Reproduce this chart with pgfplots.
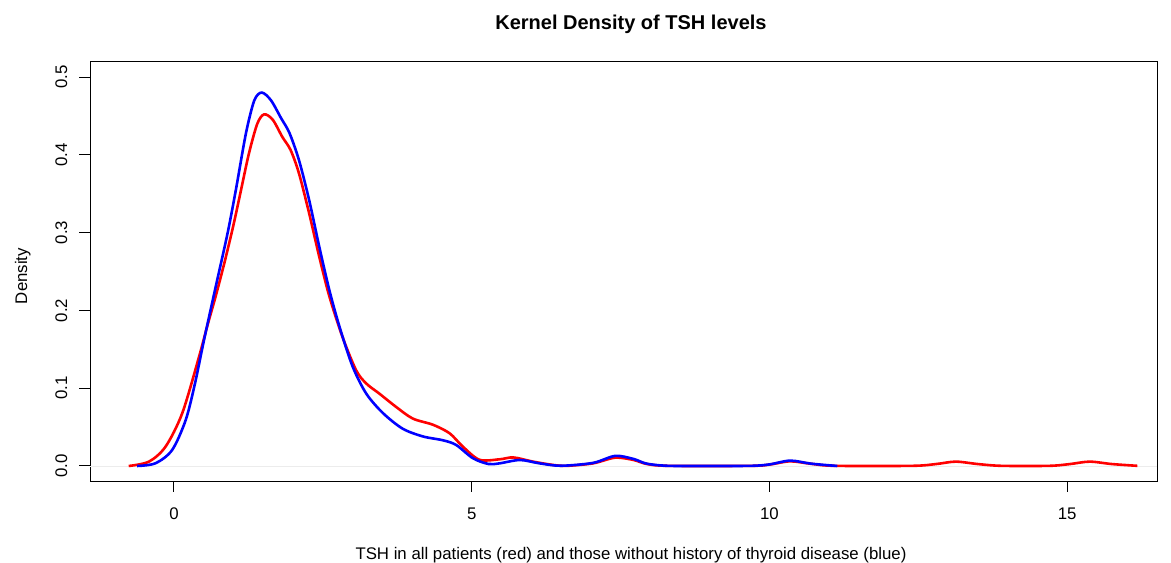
\documentclass[border=0pt]{standalone}
\usepackage{pgfplots}
\pgfplotsset{compat=1.18}
\usepackage{fontspec}
\setmainfont{Liberation Sans}
\pgfplotstableread{
x y
-0.76 0
-0.42 0.0056
-0.14 0.025
0.14 0.068
0.42 0.140
0.56 0.180
0.70 0.218
0.85 0.262
1.00 0.310
1.13 0.356
1.26 0.402
1.40 0.440
1.515 0.452
1.66 0.445
1.82 0.423
1.96 0.406
2.10 0.376
2.27 0.325
2.44 0.269
2.61 0.218
2.83 0.166
3.06 0.123
3.23 0.106
3.45 0.093
3.73 0.076
4.01 0.061
4.35 0.053
4.63 0.042
4.85 0.025
5.13 0.008
5.47 0.0086
5.70 0.011
6.03 0.0056
6.37 0.0013
6.6 0.0002
7.04 0.0034
7.41 0.0107
7.72 0.0077
7.94 0.0026
8.3 0.0002
9.7 0.0002
10.0 0.0018
10.35 0.006
10.7 0.0028
11.1 0.0002
12.4 0.0002
12.8 0.0025
13.13 0.0056
13.5 0.0025
13.9 0.0002
14.7 0.0002
15.05 0.0025
15.38 0.0056
15.75 0.0025
16.18 0.0002
}\allpts
\pgfplotstableread{
x y
-0.62 0
-0.31 0.0035
-0.03 0.0206
0.197 0.059
0.35 0.105
0.505 0.162
0.70 0.230
0.90 0.299
1.04 0.355
1.21 0.428
1.35 0.470
1.476 0.480
1.63 0.470
1.80 0.447
1.94 0.428
2.10 0.393
2.27 0.342
2.44 0.282
2.61 0.226
2.78 0.179
3.00 0.128
3.23 0.093
3.51 0.068
3.84 0.048
4.18 0.038
4.52 0.033
4.74 0.027
5.02 0.010
5.28 0.0026
5.47 0.0034
5.81 0.0077
6.14 0.0034
6.5 0.0003
7.04 0.004
7.41 0.013
7.72 0.009
7.94 0.003
8.3 0.0002
9.0 0
9.7 0.0002
10.0 0.002
10.35 0.0069
10.7 0.003
11.14 0
}\nothyroid
\begin{document}
\begin{tikzpicture}
\path[use as bounding box] (-45pt,-40.5pt) rectangle (540.5pt,240.5pt);
\begin{axis}[
  at={(0,0)}, anchor=south west,
  scale only axis,
  width=533.5pt, height=209.5pt,
  xmin=-1.41, xmax=16.51,
  ymin=-0.0193, ymax=0.5193,
  axis line style={black, line width=0.5pt},
  xtick={0,5,10,15},
  ytick={0,0.1,0.2,0.3,0.4,0.5},
  yticklabels={0.0,0.1,0.2,0.3,0.4,0.5},
  xtick pos=bottom, ytick pos=left,
  tick align=outside,
  major tick length=5.4pt,
  tick style={black, line width=0.5pt},
  /pgf/number format/assume math mode=true,
  tick label style={font=\fontsize{8.4}{10}\selectfont},
  xticklabel style={anchor=base, yshift=-13.8pt},
  yticklabel style={xshift=-6.1pt, rotate=90, anchor=base},
  title={Kernel Density of TSH levels},
  title style={at={(axis description cs:0.507,1.050)}, anchor=base, font=\bfseries\fontsize{10}{12}\selectfont},
  xlabel={TSH in all patients (red) and those without history of thyroid disease (blue)},
  xlabel style={at={(axis description cs:0.507,-0.1862)}, anchor=base, font=\fontsize{8.4}{10}\selectfont},
  ylabel={Density},
  ylabel style={at={(axis description cs:-0.05904,0.489)}, rotate=0, anchor=base, font=\fontsize{8.4}{10}\selectfont},
  clip=true,
]
\addplot[gray!15, line width=0.4pt, forget plot] coordinates {(-1.41,0) (16.51,0)};
\addplot[red, line width=1.3pt, smooth, tension=0.5] table[x=x,y=y] {\allpts};
\addplot[blue, line width=1.3pt, smooth, tension=0.5] table[x=x,y=y] {\nothyroid};
\end{axis}
\end{tikzpicture}
\end{document}
